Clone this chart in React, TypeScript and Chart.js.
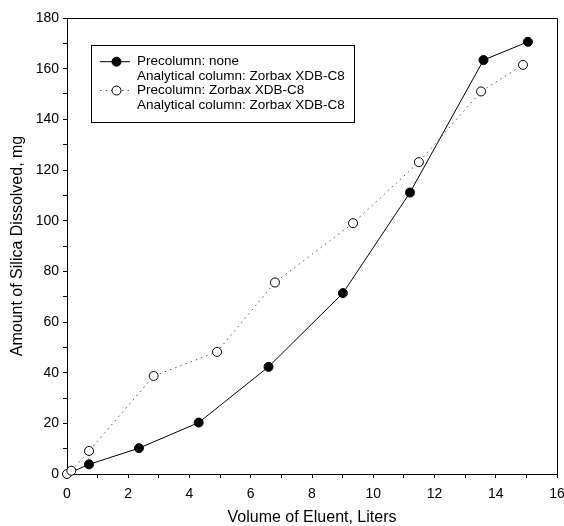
import React, { useEffect, useRef } from "react";
import { Chart, registerables } from "chart.js";

Chart.register(...registerables);

// Volume of eluent (liters) and silica dissolved (mg)
const noPrecolumnX = [0, 0.72, 2.35, 4.3, 6.58, 9.01, 11.2, 13.6, 15.05];
const noPrecolumnY = [0, 3.8, 10.2, 20.3, 42.3, 71.4, 111.1, 163.4, 170.6];
const withPrecolumnX = [0, 0.14, 0.72, 2.83, 4.9, 6.79, 9.34, 11.49, 13.52, 14.89];
const withPrecolumnY = [0, 1.3, 9.1, 38.7, 48.2, 75.6, 99.0, 123.1, 151.0, 161.5];

const seriesLabels = [
  ["Precolumn: none", "Analytical column: Zorbax XDB-C8"],
  ["Precolumn: Zorbax XDB-C8", "Analytical column: Zorbax XDB-C8"],
];

const xTitle = "Volume of Eluent, Liters";
const yTitle = "Amount of Silica Dissolved, mg";
const xMajorStep = 2;
const yMajorStep = 20;

const FONT = '"Liberation Sans", Arial, Helvetica, sans-serif';

const framePlugin = {
  id: "frame",
  afterDraw(chart: any) {
    const { ctx, chartArea } = chart;
    ctx.save();
    ctx.strokeStyle = "#000";
    ctx.lineWidth = 1;
    ctx.beginPath();
    ctx.moveTo(chartArea.left, chartArea.top + 0.5);
    ctx.lineTo(chartArea.right + 0.5, chartArea.top + 0.5);
    ctx.lineTo(chartArea.right + 0.5, chartArea.bottom);
    ctx.stroke();
    ctx.restore();
  },
};

const legendPlugin = {
  id: "boxLegend",
  afterDraw(chart: any) {
    const { ctx } = chart;
    const bx = 91, by = 45, bw = 263, bh = 77;
    ctx.save();
    ctx.fillStyle = "#fff";
    ctx.fillRect(bx, by, bw, bh);
    ctx.strokeStyle = "#000";
    ctx.lineWidth = 1;
    ctx.strokeRect(bx + 0.5, by + 0.5, bw, bh);
    ctx.font = `13.5px ${FONT}`;
    ctx.textBaseline = "middle";
    ctx.fillStyle = "#000";
    const rowH = 14.4;
    const firstRow = by + 16.7;
    let row = 0;
    chart.data.datasets.forEach((ds: any, i: number) => {
      const lines = seriesLabels[i];
      const y = firstRow + row * rowH;
      ctx.save();
      ctx.strokeStyle = ds.borderColor;
      ctx.lineWidth = ds.borderWidth;
      ctx.setLineDash(ds.borderDash || []);
      ctx.beginPath();
      ctx.moveTo(100, y);
      ctx.lineTo(130, y);
      ctx.stroke();
      ctx.setLineDash([]);
      ctx.beginPath();
      ctx.arc(116.5, y, 4.5, 0, Math.PI * 2);
      ctx.fillStyle = ds.pointBackgroundColor;
      ctx.fill();
      ctx.strokeStyle = "#000";
      ctx.lineWidth = 1;
      ctx.stroke();
      ctx.restore();
      lines.forEach((t: string, k: number) => {
        ctx.fillText(t, 137, firstRow + (row + k) * rowH);
      });
      row += lines.length;
    });
    ctx.restore();
  },
};

export default function App() {
  const ref = useRef<HTMLCanvasElement | null>(null);

  useEffect(() => {
    if (!ref.current) return;
    const filled = noPrecolumnX.map((x, i) => ({ x, y: noPrecolumnY[i] }));
    const open = withPrecolumnX.map((x, i) => ({ x, y: withPrecolumnY[i] }));
    const chart = new Chart(ref.current, {
      type: "line",
      data: {
        datasets: [
          {
            label: seriesLabels[0].join(" "),
            data: filled,
            borderColor: "#000",
            borderWidth: 1,
            pointRadius: filled.map((_, i) => (i === 0 ? 0 : 4.5)),
            pointBackgroundColor: "#000",
            pointBorderColor: "#000",
            pointBorderWidth: 1,
            fill: false,
            tension: 0,
            clip: false,
            order: 1,
          } as any,
          {
            label: seriesLabels[1].join(" "),
            data: open,
            borderColor: "#555",
            borderWidth: 1,
            borderDash: [1.5, 4],
            pointRadius: 4.5,
            pointBackgroundColor: "#fff",
            pointBorderColor: "#000",
            pointBorderWidth: 1,
            fill: false,
            tension: 0,
            clip: false,
            order: 0,
          } as any,
        ],
      },
      options: {
        responsive: false,
        animation: false,
        devicePixelRatio: 1,
        layout: { padding: { top: 18, right: 0, left: 0, bottom: 0 } },
        plugins: {
          legend: { display: false },
          tooltip: { enabled: false },
        },
        scales: {
          x: {
            type: "linear",
            min: 0,
            max: 16,
            grid: {
              drawOnChartArea: false,
              drawTicks: true,
              tickLength: 4,
              color: "#000",
              lineWidth: 1,
            },
            border: { display: true, color: "#000", width: 1 },
            ticks: {
              stepSize: 1,
              autoSkip: false,
              maxRotation: 0,
              color: "#000",
              font: { family: FONT, size: 14 },
              padding: 8,
              callback: (v: any) => (v % xMajorStep === 0 ? String(v) : ""),
            },
            title: {
              display: true,
              text: xTitle,
              color: "#000",
              font: { family: FONT, size: 16 },
              padding: { top: 0, bottom: -1.5 },
            },
            afterFit: (s: any) => {
              s.height = 52;
              s.paddingLeft = 0;
              s.paddingRight = 7;
            },
          },
          y: {
            type: "linear",
            min: 0,
            max: 180,
            grid: {
              drawOnChartArea: false,
              drawTicks: true,
              tickLength: 4,
              color: "#000",
              lineWidth: 1,
            },
            border: { display: true, color: "#000", width: 1 },
            ticks: {
              stepSize: 10,
              autoSkip: false,
              color: "#000",
              font: { family: FONT, size: 14 },
              padding: 4,
              callback: (v: any) => (v % yMajorStep === 0 ? String(v) : ""),
            },
            title: {
              display: true,
              text: yTitle,
              color: "#000",
              font: { family: FONT, size: 16 },
              padding: { top: 8, bottom: 0 },
            },
            afterFit: (s: any) => {
              s.width = 67;
              s.paddingTop = 0;
              s.paddingBottom = 0;
            },
          },
        },
      } as any,
      plugins: [framePlugin, legendPlugin],
    });
    return () => chart.destroy();
  }, []);

  return (
    <div style={{ position: "absolute", left: 0, top: 0, width: 564, height: 526, background: "#fff" }}>
      <canvas ref={ref} width={564} height={526} />
    </div>
  );
}
